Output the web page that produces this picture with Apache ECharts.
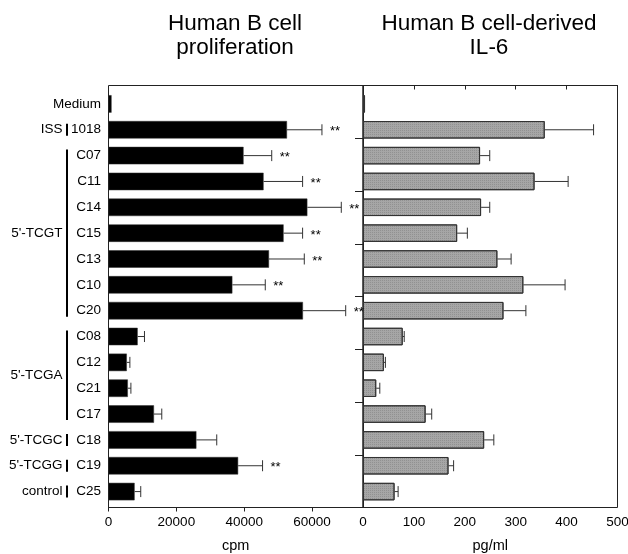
<!DOCTYPE html>
<html><head><meta charset="utf-8">
<script src="https://cdn.jsdelivr.net/npm/echarts@6/dist/echarts.min.js"></script>
<style>html,body{margin:0;padding:0;background:#fff}#c{width:628px;height:554px}</style>
</head><body><div id="c"></div>
<script>
var categories = ['Medium','1018','C07','C11','C14','C15','C13','C10','C20','C08','C12','C21','C17','C18','C19','C25'];
var cpmValues = [900, 52600, 39800, 45700, 58600, 51600, 47300, 36500, 57300, 8600, 5400, 5700, 13400, 25900, 38200, 7700];
var cpmErrors = [0, 10300, 8300, 11500, 10000, 5600, 10400, 9700, 12600, 2000, 900, 900, 2300, 6000, 7200, 1800];
var cpmSignif = ['', '**', '**', '**', '**', '**', '**', '**', '**', '', '', '', '', '', '**', ''];
var il6Values = [4, 357, 230, 337, 232, 185, 264, 315, 276, 78, 41, 26, 123, 238, 168, 62];
var il6Errors = [0, 96, 19, 66, 17, 20, 27, 82, 44, 3, 3, 7, 12, 19, 10, 7];
var groupNames = ['ISS', "5'-TCGT", "5'-TCGA", "5'-TCGC", "5'-TCGG", 'control'];
var groupStart = [1, 2, 9, 13, 14, 15];
var groupEnd = [1, 8, 12, 13, 14, 15];
var cpmTicks = [0, 20000, 40000, 60000];
var il6Ticks = [0, 100, 200, 300, 400, 500];

var FONT = 'Arial, "Liberation Sans", sans-serif';
var chart = echarts.init(document.getElementById('c'), null, {renderer: 'canvas'});

function errData(vals, errs) {
  return vals.map(function (v, i) { return [v, errs[i], i]; });
}
function errRender(sig) {
  return function (params, api) {
    var v = api.value(0), e = api.value(1), idx = api.value(2);
    var children = [];
    var p0 = api.coord([v, idx]);
    var p1 = api.coord([v + e, idx]);
    if (e > 0) {
      children.push({type: 'line', shape: {x1: p0[0], y1: p0[1], x2: p1[0], y2: p1[1]}, style: {stroke: '#333', lineWidth: 1}});
      children.push({type: 'line', shape: {x1: p1[0], y1: p1[1] - 5.5, x2: p1[0], y2: p1[1] + 5.5}, style: {stroke: '#333', lineWidth: 1}});
    }
    if (sig && sig[params.dataIndex]) {
      children.push({type: 'text', x: p1[0] + 8, y: p1[1] + 2, style: {text: sig[params.dataIndex], font: '13px ' + FONT, fill: '#000', align: 'left', verticalAlign: 'middle'}});
    }
    return {type: 'group', children: children};
  };
}

var groupData = groupStart.map(function (s, i) { return [s, groupEnd[i], 0]; });

var option = {
  animation: false,
  backgroundColor: '#fff',
  textStyle: {fontFamily: FONT},
  title: [
    {text: 'Human B cell\nproliferation', left: 235, top: 12, textAlign: 'center', padding: 0,
     textStyle: {fontFamily: FONT, fontSize: 22.5, fontWeight: 'normal', color: '#000', lineHeight: 24}},
    {text: 'Human B cell-derived\nIL-6', left: 489, top: 12, textAlign: 'center', padding: 0,
     textStyle: {fontFamily: FONT, fontSize: 22.5, fontWeight: 'normal', color: '#000', lineHeight: 24}}
  ],
  grid: [
    {left: 108.5, top: 91, width: 254.5, height: 413.5, outerBoundsMode: 'none', containLabel: false},
    {left: 363, top: 91, width: 254.5, height: 413.5, outerBoundsMode: 'none', containLabel: false},
    {left: 108.5, top: 85.5, width: 254.5, height: 422, show: true, borderColor: '#222', borderWidth: 1, backgroundColor: 'transparent', outerBoundsMode: 'none', containLabel: false},
    {left: 363, top: 85.5, width: 254.5, height: 422, show: true, borderColor: '#222', borderWidth: 1, backgroundColor: 'transparent', outerBoundsMode: 'none', containLabel: false}
  ],
  xAxis: [
    {type: 'value', gridIndex: 0, min: 0, max: 75000, show: false},
    {type: 'value', gridIndex: 1, min: 0, max: 500, show: false},
    {type: 'value', gridIndex: 2, min: 0, max: 75000, interval: 20000,
     axisLine: {show: true, lineStyle: {color: '#222'}}, axisTick: {show: true, length: 4, lineStyle: {color: '#222'}},
     axisLabel: {show: true, color: '#000', fontSize: 13.5, margin: 8, fontFamily: FONT, showMaxLabel: false,
       formatter: function (v) { return cpmTicks.indexOf(v) >= 0 ? String(v) : ''; }},
     splitLine: {show: false}, name: 'cpm', nameLocation: 'middle', nameGap: 31,
     nameTextStyle: {color: '#000', fontSize: 14.5, fontFamily: FONT}},
    {type: 'value', gridIndex: 3, min: 0, max: 500, interval: 100,
     axisLine: {show: true, lineStyle: {color: '#222'}}, axisTick: {show: true, length: 4, lineStyle: {color: '#222'}},
     axisLabel: {show: true, color: '#000', fontSize: 13.5, margin: 8, fontFamily: FONT,
       formatter: function (v) { return il6Ticks.indexOf(v) >= 0 ? String(v) : ''; }},
     splitLine: {show: false}, name: 'pg/ml', nameLocation: 'middle', nameGap: 31,
     nameTextStyle: {color: '#000', fontSize: 14.5, fontFamily: FONT}}
  ],
  yAxis: [
    {type: 'category', gridIndex: 0, data: categories, inverse: true,
     axisLine: {show: false}, axisTick: {show: false},
     axisLabel: {color: '#000', fontSize: 13.5, margin: 7.5, fontFamily: FONT}},
    {type: 'category', gridIndex: 1, data: categories, inverse: true, show: false},
    {type: 'value', gridIndex: 2, min: 0, max: 8, show: false},
    {type: 'value', gridIndex: 3, min: 0, max: 8, interval: 1, inverse: true,
     axisLine: {show: true, lineStyle: {color: '#222'}},
     axisTick: {show: true, length: 8, lineStyle: {color: '#222'}},
     axisLabel: {show: false}, splitLine: {show: false}}
  ],
  series: [
    {type: 'bar', xAxisIndex: 0, yAxisIndex: 0, data: cpmValues, barWidth: 17.5,
     itemStyle: {color: '#000', borderColor: '#333', borderWidth: 0.5}},
    {type: 'bar', xAxisIndex: 1, yAxisIndex: 1, data: il6Values, barWidth: 17.5,
     itemStyle: {color: '#a6a6a6', borderColor: '#333', borderWidth: 1,
       decal: {symbol: 'rect', symbolSize: 1, dashArrayX: [1, 1], dashArrayY: [1, 1], color: 'rgba(0,0,0,0.12)', rotation: 0}}},
    {type: 'custom', xAxisIndex: 0, yAxisIndex: 0, data: errData(cpmValues, cpmErrors),
     encode: {x: 0, y: 2}, renderItem: errRender(cpmSignif), z: 5, clip: false},
    {type: 'custom', xAxisIndex: 1, yAxisIndex: 1, data: errData(il6Values, il6Errors),
     encode: {x: 0, y: 2}, renderItem: errRender(null), z: 5, clip: false},
    {type: 'custom', xAxisIndex: 0, yAxisIndex: 0, data: groupData, encode: {x: 2, y: [0, 1]}, clip: false,
     renderItem: function (params, api) {
       var s = api.value(0), e = api.value(1);
       var ps = api.coord([0, s]), pe = api.coord([0, e]);
       var x = ps[0] - 41.5;
       var y1 = ps[1] - 6, y2 = pe[1] + 6;
       return {type: 'group', children: [
         {type: 'line', shape: {x1: x, y1: y1, x2: x, y2: y2}, style: {stroke: '#000', lineWidth: 2}},
         {type: 'text', x: x - 4.5, y: (y1 + y2) / 2, style: {text: groupNames[params.dataIndex], font: '13.5px ' + FONT, fill: '#000', align: 'right', verticalAlign: 'middle'}}
       ]};
     }}
  ]
};
chart.setOption(option);
</script></body></html>
